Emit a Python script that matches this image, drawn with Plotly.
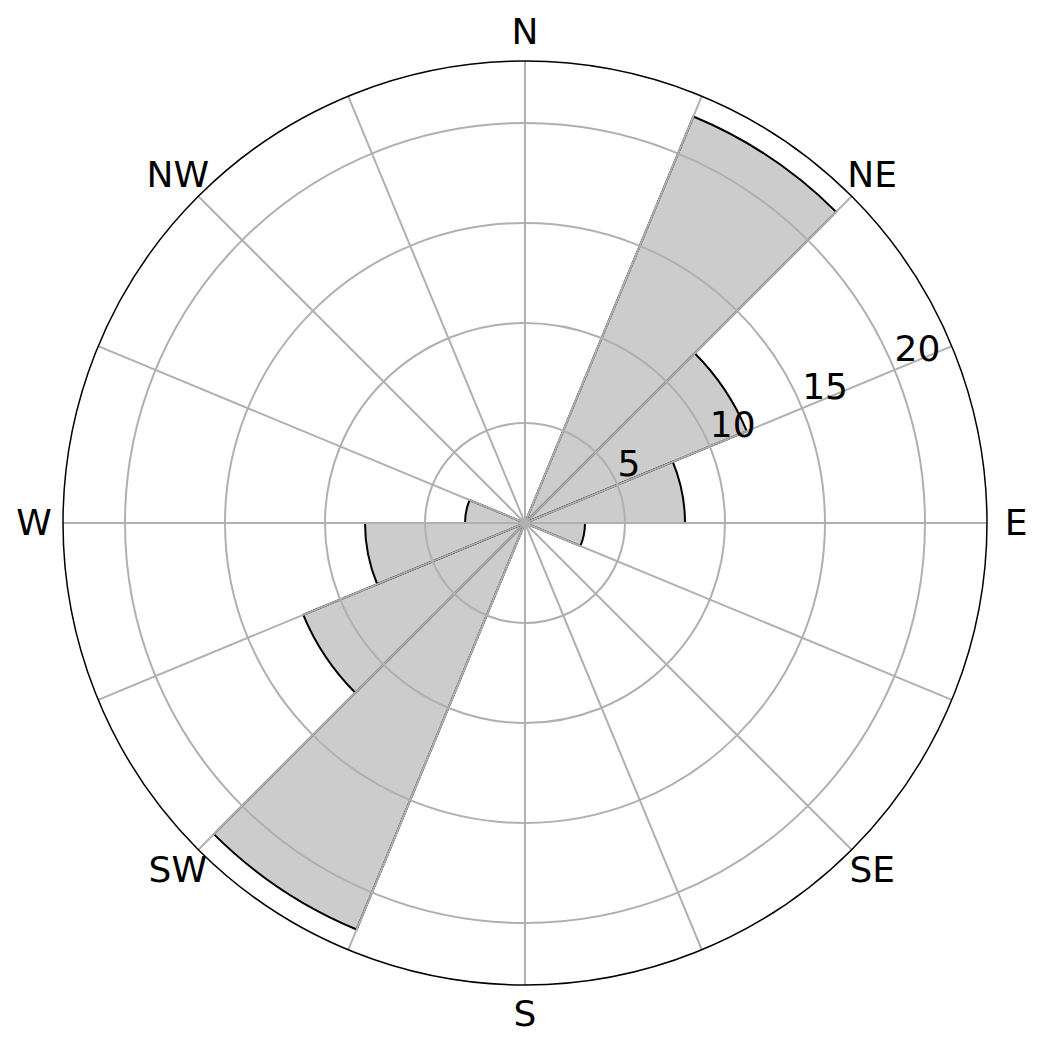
import plotly.graph_objects as go

# Sector centers (degrees, compass) and frequencies
sector_centers = [11.25, 33.75, 56.25, 78.75, 101.25, 123.75, 146.25, 168.75,
                  191.25, 213.75, 236.25, 258.75, 281.25, 303.75, 326.25, 348.75]
frequencies = [0, 22, 12, 8, 3, 0, 0, 0,
               0, 22, 12, 8, 3, 0, 0, 0]
sector_width = 22.5

angular_tickvals = [0, 22.5, 45, 67.5, 90, 112.5, 135, 157.5,
                    180, 202.5, 225, 247.5, 270, 292.5, 315, 337.5]
compass_angles = [0, 45, 90, 135, 180, 225, 270, 315]
compass_labels = ["N", "NE", "E", "SE", "S", "SW", "W", "NW"]
radial_tickvals = [5, 10, 15, 20]
radial_ticktext = ["5", "10", "15", "20"]

R_MAX = 23.1          # radial limit of the plot
R_OUTER = 25.5        # limit of the (invisible) label layer
LABEL_R = 24.55       # radius where compass labels are centred
RLABEL_ANGLE = 67.5   # compass angle of the radial tick labels

W, H = 1034, 1040
cx, cy = 517, 515            # centre of the polar area (px, from top-left)
rad_main, rad_outer = 462, 510

def dom(rpx, dy=0.0):
    c = cy + dy
    return dict(x=[(cx - rpx) / W, (cx + rpx) / W],
                y=[(H - c - rpx) / H, (H - c + rpx) / H])

fig = go.Figure()
# bars (bottom layer)
fig.add_trace(go.Barpolar(
    theta=sector_centers,
    r=frequencies,
    width=[sector_width] * len(sector_centers),
    marker=dict(color="#cccccc", line=dict(color="black", width=2)),
    subplot="polar",
))
# radial tick labels on the grid layer (drawn above the bars)
fig.add_trace(go.Scatterpolar(
    r=radial_tickvals,
    theta=[RLABEL_ANGLE] * len(radial_tickvals),
    mode="text",
    text=radial_ticktext,
    textposition="top right",
    textfont=dict(size=36, family="DejaVu Sans", color="black"),
    cliponaxis=False,
    hoverinfo="skip",
    subplot="polar2",
))
# compass labels on the outer label layer
fig.add_trace(go.Scatterpolar(
    r=[LABEL_R] * len(compass_angles),
    theta=compass_angles,
    mode="text",
    text=compass_labels,
    textposition="middle center",
    textfont=dict(size=36, family="DejaVu Sans", color="black"),
    cliponaxis=False,
    hoverinfo="skip",
    subplot="polar3",
))

hidden_ang = dict(direction="clockwise", rotation=90, thetaunit="degrees",
                  showticklabels=False, showline=False, showgrid=False, ticks="")

fig.update_layout(
    width=W, height=H,
    margin=dict(l=0, r=0, t=0, b=0),
    paper_bgcolor="white",
    showlegend=False,
    font=dict(family="DejaVu Sans", color="black", size=36),
    polar=dict(
        domain=dom(rad_main),
        bgcolor="white",
        angularaxis=hidden_ang,
        radialaxis=dict(range=[0, R_MAX], showticklabels=False, showline=False,
                        showgrid=False, ticks=""),
    ),
    polar2=dict(
        domain=dom(rad_main),
        bgcolor="rgba(0,0,0,0)",
        angularaxis=dict(
            direction="clockwise",
            rotation=90,
            thetaunit="degrees",
            tickmode="array",
            tickvals=angular_tickvals,
            showticklabels=False,
            showline=True,
            linecolor="black",
            linewidth=1.5,
            showgrid=True,
            gridcolor="#b0b0b0",
            gridwidth=1.5,
            ticks="",
        ),
        radialaxis=dict(
            range=[0, R_MAX],
            angle=22.5,
            tickmode="array",
            tickvals=radial_tickvals,
            showticklabels=False,
            showline=False,
            showgrid=True,
            gridcolor="#b0b0b0",
            gridwidth=1.5,
            ticks="",
        ),
    ),
    polar3=dict(
        domain=dom(rad_outer, dy=2.5),
        bgcolor="rgba(0,0,0,0)",
        angularaxis=hidden_ang,
        radialaxis=dict(range=[0, R_OUTER], showticklabels=False, showline=False,
                        showgrid=False, ticks=""),
    ),
)

fig.write_html("out.html")
